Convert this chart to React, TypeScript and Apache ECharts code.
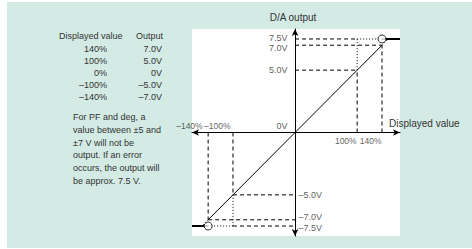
import React, { useEffect, useRef } from "react";
import * as echarts from "echarts";

// ---- data ----
const displayedPct = [-140, -100, 0, 100, 140];
const outputV = [-7.0, -5.0, 0, 5.0, 7.0];
const errorV = 7.5;
const tableDisplayed = ["140%", "100%", "0%", "–100%", "–140%"];
const tableOutput = ["7.0V", "5.0V", "0V", "–5.0V", "–7.0V"];
const yTicksUpper = [7.5, 7.0, 5.0];
const yTicksLower = [-5.0, -7.0, -7.5];
const xTicksLeft = [-140, -100];
const xTicksRight = [100, 140];
const noteLines = [
  "For PF and deg, a",
  "value between ±5 and",
  "±7 V will not be",
  "output. If an error",
  "occurs, the output will",
  "be approx. 7.5 V.",
];

// ---- styling / layout ----
const FONT = '"Liberation Sans", Arial, Helvetica, sans-serif';
const TXT = "#333";
const X_MIN = -166;
const X_MAX = 169;
const Y_MIN = -8.3;
const Y_MAX = 8.3;
const DASH = [4, 3];
const DOT = [1, 2];
const yLabelNudge: Record<string, number> = { "7.5": -1, "7": 3, "-7": -3, "-7.5": 2 };
const xLabelNudge: Record<string, number> = { "-140": -5, "-100": -2 };

const fmtV = (v: number) => (v < 0 ? "–" : "") + Math.abs(v).toFixed(1) + "V";
const fmtP = (p: number) => (p < 0 ? "–" : "") + Math.abs(p) + "%";

function seg(data: number[][], type: any, width = 1) {
  return {
    type: "line",
    data,
    symbol: "none",
    silent: true,
    z: 4,
    lineStyle: { color: "#000", width, type },
  };
}

const hiddenPoint = { color: "rgba(0,0,0,0)", borderWidth: 0 };

export default function App() {
  const ref = useRef<HTMLDivElement>(null);
  useEffect(() => {
    if (!ref.current) return;
    const chart = echarts.init(ref.current, undefined, { renderer: "svg" });

    const iHi = 4, iMid = 3, iLo = 0, iLm = 1;
    const xHi = displayedPct[iHi], yHi = outputV[iHi];
    const xMid = displayedPct[iMid], yMid = outputV[iMid];
    const xLo = displayedPct[iLo], yLo = outputV[iLo];
    const xLm = displayedPct[iLm], yLm = outputV[iLm];
    const xExtHi = (errorV / yHi) * xHi;
    const xExtLo = (-errorV / yLo) * xLo;

    const labelBase = { fontSize: 9, fontFamily: FONT, color: TXT };

    const series: any[] = [
      seg(displayedPct.map((x, i) => [x, outputV[i]]), "solid"),
      seg([[xHi, yHi], [xExtHi, errorV]], DOT),
      seg([[xLo, yLo], [xExtLo, -errorV]], DOT),
      seg([[xHi, errorV], [X_MAX, errorV]], "solid", 2),
      seg([[X_MIN, -errorV], [xLo, -errorV]], "solid", 2),
      // upper guides
      seg([[0, yHi], [xHi, yHi]], DASH),
      seg([[0, yMid], [xMid, yMid]], DASH),
      seg([[0, errorV], [xMid, errorV]], DASH),
      seg([[xMid, errorV], [xHi, errorV]], DOT),
      seg([[xHi, 0], [xHi, yHi]], DASH),
      seg([[xMid, 0], [xMid, yMid]], DASH),
      seg([[xMid, yMid], [xMid, errorV]], DOT),
      // lower guides
      seg([[xLo, yLo], [0, yLo]], DASH),
      seg([[xLm, yLm], [0, yLm]], DASH),
      seg([[xLm, -errorV], [0, -errorV]], DASH),
      seg([[xLo, -errorV], [xLm, -errorV]], DOT),
      seg([[xLo, 0], [xLo, yLo]], DASH),
      seg([[xLm, 0], [xLm, yLm]], DASH),
      seg([[xLm, yLm], [xLm, -errorV]], DOT),
      {
        type: "scatter",
        data: [[xHi, errorV], [xLo, -errorV]],
        symbol: "circle",
        symbolSize: 8,
        silent: true,
        z: 6,
        itemStyle: { color: "#fff", borderColor: "#000", borderWidth: 1 },
      },
      {
        type: "scatter",
        data: yTicksUpper.map((v) => ({
          value: [0, v],
          label: { offset: [0, yLabelNudge[String(v)] || 0] },
        })),
        symbolSize: 1,
        silent: true,
        z: 7,
        itemStyle: hiddenPoint,
        label: {
          show: true, position: "left", distance: 7,
          formatter: (p: any) => fmtV(p.value[1]),
          ...labelBase,
        },
      },
      {
        type: "scatter",
        data: yTicksLower.map((v) => ({
          value: [0, v],
          label: { offset: [0, yLabelNudge[String(v)] || 0] },
        })),
        symbolSize: 1,
        silent: true,
        z: 7,
        itemStyle: hiddenPoint,
        label: {
          show: true, position: "right", distance: 3,
          formatter: (p: any) => fmtV(p.value[1]),
          ...labelBase,
        },
      },
      {
        type: "scatter",
        data: xTicksLeft.map((p) => ({
          value: [p, 0],
          label: { offset: [xLabelNudge[String(p)] || 0, 0] },
        })),
        symbolSize: 1,
        silent: true,
        z: 7,
        itemStyle: hiddenPoint,
        label: {
          show: true, position: [0, -6], align: "right", verticalAlign: "middle",
          formatter: (p: any) => fmtP(p.value[0]),
          ...labelBase, fontSize: 8.5,
        },
      },
      {
        type: "scatter",
        data: xTicksRight.map((p) => [p, 0]),
        symbolSize: 1,
        silent: true,
        z: 7,
        itemStyle: hiddenPoint,
        label: {
          show: true, position: [0, 9], align: "right", verticalAlign: "middle",
          formatter: (p: any) => fmtP(p.value[0]),
          ...labelBase, fontSize: 8.5,
        },
      },
      {
        type: "scatter",
        data: [[0, 0]],
        symbolSize: 1,
        silent: true,
        z: 7,
        itemStyle: hiddenPoint,
        label: {
          show: true, position: [-7, -6], align: "right", verticalAlign: "middle",
          formatter: () => "0V",
          ...labelBase,
        },
      },
    ];

    const graphics: any[] = [
      {
        type: "text", x: 293, y: 17,
        style: { text: "D/A output", fontSize: 10, fontFamily: FONT, fill: TXT, textAlign: "center", textVerticalAlign: "middle" },
      },
      {
        type: "text", x: 389, y: 123,
        style: { text: "Displayed value", fontSize: 10, fontFamily: FONT, fill: TXT, textAlign: "left", textVerticalAlign: "middle" },
      },
      {
        type: "text", x: 59, y: 36,
        style: { text: "Displayed value", fontSize: 9, fontFamily: FONT, fill: TXT, textAlign: "left", textVerticalAlign: "middle" },
      },
      {
        type: "text", x: 163, y: 36,
        style: { text: "Output", fontSize: 9, fontFamily: FONT, fill: TXT, textAlign: "right", textVerticalAlign: "middle" },
      },
    ];
    tableDisplayed.forEach((t, i) => {
      graphics.push({
        type: "text", x: 107, y: 48.7 + i * 12.1,
        style: { text: t, fontSize: 9, fontFamily: FONT, fill: TXT, textAlign: "right", textVerticalAlign: "middle" },
      });
      graphics.push({
        type: "text", x: 162, y: 48.7 + i * 12.1,
        style: { text: tableOutput[i], fontSize: 9, fontFamily: FONT, fill: TXT, textAlign: "right", textVerticalAlign: "middle" },
      });
    });
    noteLines.forEach((t, i) => {
      graphics.push({
        type: "text", x: 73, y: 117 + i * 12.8,
        style: { text: t, fontSize: 9, fontFamily: FONT, fill: TXT, textAlign: "left", textVerticalAlign: "middle" },
      });
    });

    const axisLine = {
      show: true,
      onZero: true,
      symbol: ["arrow", "arrow"],
      symbolSize: [5, 7],
      lineStyle: { color: "#000", width: 1 },
    };

    chart.setOption({
      animation: false,
      grid: {
        left: 192, top: 29, width: 208, height: 207,
        show: true, backgroundColor: "#fff", borderWidth: 0,
      },
      xAxis: {
        type: "value", min: X_MIN, max: X_MAX,
        axisLine, axisTick: { show: false }, axisLabel: { show: false }, splitLine: { show: false },
        z: 3,
      },
      yAxis: {
        type: "value", min: Y_MIN, max: Y_MAX,
        axisLine, axisTick: { show: false }, axisLabel: { show: false }, splitLine: { show: false },
        z: 3,
      },
      graphic: graphics,
      series,
    });
    return () => chart.dispose();
  }, []);

  return (
    <div style={{ position: "absolute", left: 0, top: 0, width: 472, height: 249, background: "#fff" }}>
      <div style={{ position: "absolute", left: 7, top: 2, width: 465, height: 246, background: "#d4eae5" }} />
      <div ref={ref} style={{ position: "absolute", left: 0, top: 0, width: 472, height: 249 }} />
    </div>
  );
}
